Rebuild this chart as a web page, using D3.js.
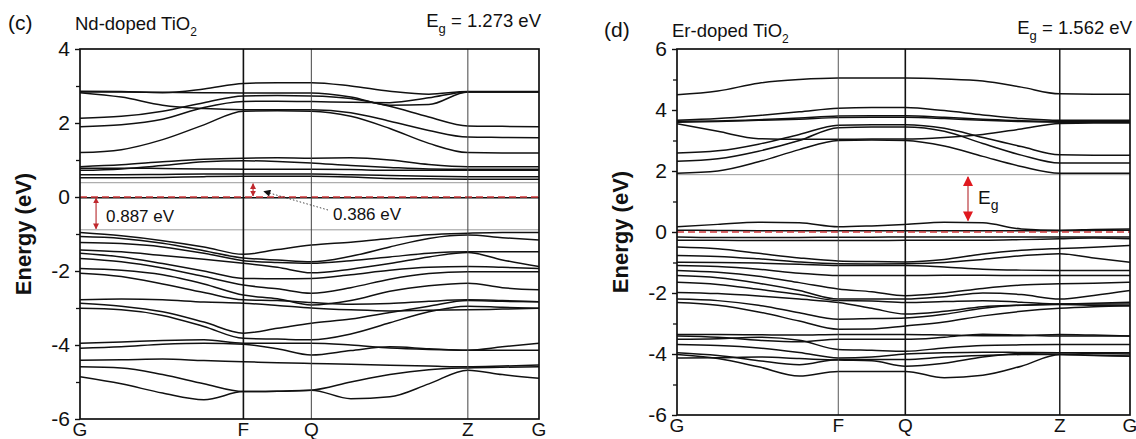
<!DOCTYPE html>
<html>
<head>
<meta charset="utf-8">
<title>band structures</title>
<style>
    body { margin: 0; background: #fff; }
    text { font-family: Arial, "Liberation Sans", sans-serif; fill: #111; }
</style>
</head>
<body>
<script src="https://d3js.org/d3.v7.min.js"></script>
<script>
    var width = 1136,
        height = 439;

    // k-path: high symmetry labels and their fractional positions along the path
    var kLabels = ["G", "F", "Q", "Z", "G"];
    var kPos = [0, 0.356, 0.504, 0.845, 1];
    var kSamples = [0, 0.09, 0.18, 0.27, 0.356, 0.43, 0.504, 0.59, 0.675, 0.76, 0.845, 0.92, 1];

    // (c) Nd-doped TiO2, energies in eV at kSamples
    var ndBands = [
        [2.86, 2.85, 2.82, 2.92, 3.07, 3.09, 3.09, 3.00, 2.86, 2.78, 2.85, 2.85, 2.85],
        [2.82, 2.70, 2.48, 2.39, 2.36, 2.36, 2.36, 2.28, 2.05, 1.80, 1.62, 1.61, 1.60],
        [2.13, 2.18, 2.32, 2.55, 2.73, 2.74, 2.73, 2.66, 2.45, 2.16, 1.92, 1.91, 1.90],
        [1.90, 1.95, 2.10, 2.42, 2.58, 2.59, 2.58, 2.56, 2.55, 2.68, 2.84, 2.84, 2.84],
        [1.20, 1.28, 1.55, 1.95, 2.32, 2.33, 2.32, 2.18, 1.85, 1.45, 1.20, 1.19, 1.19],
        [2.84, 2.84, 2.83, 2.82, 2.81, 2.81, 2.81, 2.70, 2.48, 2.50, 2.84, 2.84, 2.84],
        [0.82, 0.87, 0.95, 1.02, 1.05, 1.06, 1.05, 1.06, 1.00, 0.88, 0.82, 0.82, 0.82],
        [0.72, 0.76, 0.85, 0.95, 0.98, 0.96, 0.92, 0.85, 0.80, 0.76, 0.75, 0.75, 0.75],
        [0.78, 0.78, 0.77, 0.76, 0.75, 0.75, 0.75, 0.74, 0.72, 0.72, 0.72, 0.72, 0.72],
        [0.60, 0.60, 0.61, 0.62, 0.62, 0.62, 0.62, 0.60, 0.58, 0.56, 0.55, 0.55, 0.55],
        [0.52, 0.52, 0.53, 0.55, 0.56, 0.56, 0.56, 0.54, 0.50, 0.49, 0.48, 0.48, 0.48],
        [-0.02, -0.02, -0.02, -0.02, -0.02, -0.02, -0.02, -0.02, -0.02, -0.02, -0.02, -0.02, -0.02],
        [-0.96, -1.05, -1.18, -1.35, -1.55, -1.42, -1.30, -1.22, -1.12, -1.02, -0.98, -0.96, -0.96],
        [-1.07, -1.12, -1.25, -1.45, -1.65, -1.70, -1.75, -1.60, -1.35, -1.12, -1.03, -1.10, -1.16],
        [-1.23, -1.26, -1.35, -1.52, -1.72, -1.77, -1.79, -1.72, -1.62, -1.52, -1.48, -1.48, -1.48],
        [-1.43, -1.48, -1.58, -1.68, -1.79, -1.90, -2.05, -1.95, -1.80, -1.62, -1.50, -1.70, -1.88],
        [-1.52, -1.62, -1.80, -2.00, -2.20, -2.21, -2.20, -2.10, -1.98, -1.90, -1.88, -1.90, -1.93],
        [-1.66, -1.75, -1.92, -2.15, -2.38, -2.48, -2.60, -2.45, -2.22, -2.07, -2.02, -2.02, -2.02],
        [-1.93, -1.98, -2.10, -2.35, -2.65, -2.75, -2.92, -2.80, -2.55, -2.40, -2.33, -2.45, -2.51],
        [-2.06, -2.15, -2.35, -2.58, -2.78, -2.80, -2.85, -2.90, -2.88, -2.82, -2.78, -2.80, -2.83],
        [-2.78, -2.76, -2.78, -2.84, -2.87, -2.93, -3.00, -3.05, -3.08, -3.06, -3.05, -3.03, -3.01],
        [-2.87, -2.95, -3.10, -3.38, -3.68, -3.55, -3.41, -3.30, -3.12, -2.95, -2.80, -2.82, -2.83],
        [-3.01, -3.05, -3.20, -3.50, -3.82, -3.84, -3.86, -3.70, -3.40, -3.10, -2.95, -2.98, -3.01],
        [-3.95, -3.92, -3.88, -3.86, -3.95, -3.95, -3.95, -4.00, -4.08, -4.12, -4.14, -4.05, -3.95],
        [-4.09, -4.05, -3.98, -3.95, -3.98, -4.10, -4.27, -4.15, -4.05, -4.10, -4.14, -4.14, -4.14],
        [-4.41, -4.40, -4.38, -4.42, -4.45, -4.48, -4.50, -4.52, -4.55, -4.57, -4.59, -4.57, -4.54],
        [-4.59, -4.62, -4.80, -5.05, -5.26, -5.25, -5.22, -5.00, -4.80, -4.67, -4.62, -4.60, -4.59],
        [-4.86, -5.05, -5.30, -5.48, -5.26, -5.25, -5.22, -5.45, -5.40, -5.05, -4.68, -4.80, -4.90]
    ];

    // (d) Er-doped TiO2, energies in eV at kSamples
    var erBands = [
        [4.50, 4.62, 4.88, 5.00, 5.05, 5.05, 5.05, 5.02, 4.95, 4.75, 4.53, 4.52, 4.52],
        [3.66, 3.72, 3.82, 3.94, 4.06, 4.08, 4.08, 3.98, 3.84, 3.72, 3.66, 3.66, 3.66],
        [3.63, 3.64, 3.68, 3.74, 3.80, 3.81, 3.81, 3.76, 3.70, 3.65, 3.63, 3.63, 3.63],
        [3.60, 3.62, 3.66, 3.70, 3.75, 3.76, 3.76, 3.72, 3.66, 3.62, 3.60, 3.60, 3.60],
        [3.55, 3.30, 3.06, 3.04, 3.04, 3.05, 3.05, 3.10, 3.20, 3.38, 3.56, 3.57, 3.57],
        [2.59, 2.66, 2.88, 3.20, 3.50, 3.52, 3.52, 3.40, 3.10, 2.80, 2.53, 2.52, 2.52],
        [2.32, 2.40, 2.65, 3.00, 3.42, 3.44, 3.44, 3.30, 2.90, 2.52, 2.26, 2.26, 2.26],
        [1.93, 2.00, 2.30, 2.70, 3.00, 3.02, 3.00, 2.82, 2.48, 2.15, 1.93, 1.93, 1.93],
        [0.17, 0.25, 0.32, 0.30, 0.17, 0.20, 0.25, 0.32, 0.30, 0.10, 0.06, 0.08, 0.10],
        [0.06, 0.05, 0.04, 0.04, 0.04, 0.04, 0.04, 0.04, 0.04, 0.04, 0.04, 0.05, 0.06],
        [-0.16, -0.18, -0.18, -0.18, -0.17, -0.17, -0.16, -0.16, -0.16, -0.16, -0.16, -0.16, -0.16],
        [-0.27, -0.27, -0.28, -0.28, -0.28, -0.28, -0.27, -0.27, -0.27, -0.25, -0.22, -0.20, -0.22],
        [-0.49, -0.55, -0.70, -0.85, -0.95, -0.97, -0.98, -0.90, -0.72, -0.60, -0.54, -0.50, -0.44],
        [-0.77, -0.80, -0.88, -0.98, -1.04, -1.05, -1.04, -1.00, -0.90, -0.78, -0.71, -0.85, -0.99],
        [-0.99, -1.00, -1.02, -1.06, -1.10, -1.10, -1.10, -1.15, -1.22, -1.25, -1.26, -1.26, -1.26],
        [-1.10, -1.13, -1.22, -1.35, -1.43, -1.43, -1.43, -1.42, -1.42, -1.43, -1.43, -1.43, -1.43],
        [-1.26, -1.32, -1.45, -1.66, -1.87, -1.96, -2.09, -2.00, -1.85, -1.74, -1.70, -1.68, -1.65],
        [-1.43, -1.50, -1.68, -1.92, -2.20, -2.20, -2.20, -2.12, -2.00, -2.05, -2.20, -2.08, -1.92],
        [-1.65, -1.72, -1.88, -2.05, -2.25, -2.26, -2.31, -2.28, -2.25, -2.30, -2.36, -2.36, -2.36],
        [-1.98, -2.02, -2.10, -2.20, -2.31, -2.50, -2.69, -2.60, -2.45, -2.40, -2.36, -2.34, -2.30],
        [-2.20, -2.25, -2.40, -2.65, -2.86, -2.84, -2.82, -2.70, -2.50, -2.40, -2.38, -2.40, -2.42],
        [-2.31, -2.40, -2.62, -2.92, -3.19, -3.18, -3.08, -2.95, -2.75, -2.60, -2.50, -2.45, -2.42],
        [-3.36, -3.36, -3.37, -3.38, -3.36, -3.36, -3.36, -3.38, -3.40, -3.40, -3.36, -3.38, -3.41],
        [-3.41, -3.45, -3.55, -3.60, -3.52, -3.52, -3.52, -3.45, -3.35, -3.38, -3.41, -3.41, -3.41],
        [-3.52, -3.50, -3.45, -3.55, -3.85, -3.88, -3.91, -3.80, -3.72, -3.70, -3.69, -3.69, -3.69],
        [-3.69, -3.72, -3.80, -3.95, -4.13, -4.10, -4.00, -3.96, -3.94, -3.95, -3.96, -3.96, -3.96],
        [-3.96, -4.05, -4.22, -4.35, -4.18, -4.18, -4.18, -4.10, -4.05, -4.02, -4.02, -4.04, -4.07],
        [-4.02, -4.15, -4.42, -4.72, -4.57, -4.57, -4.57, -4.78, -4.70, -4.40, -4.02, -4.05, -4.07],
        [-4.13, -4.12, -4.10, -4.15, -4.20, -4.22, -4.40, -4.30, -4.10, -3.98, -3.96, -3.98, -4.00]
    ];

    var svg = d3.select('body').append('svg')
            .attr('width', width)
            .attr('height', height);

    var defs = svg.append('defs');
    function arrowMarker(id, color, w, h) {
        defs.append('marker')
            .attr('id', id)
            .attr('viewBox', '0 0 10 10')
            .attr('refX', 9).attr('refY', 5)
            .attr('markerUnits', 'userSpaceOnUse')
            .attr('markerWidth', w).attr('markerHeight', h)
            .attr('orient', 'auto-start-reverse')
            .append('path')
            .attr('d', 'M0,0 L10,5 L0,10 Z')
            .attr('fill', color);
    }
    arrowMarker('headSmall', '#c0282d', 6, 6);
    arrowMarker('headBig', '#e0191f', 11, 10);
    arrowMarker('headBlack', '#111', 8, 7);

    function drawPanel(p) {
        var x = d3.scaleLinear().domain([0, 1]).range([p.left, p.right]);
        var y = d3.scaleLinear().domain(p.yDomain).range([p.bottom, p.top]);
        var g = svg.append('g');

        defs.append('clipPath').attr('id', 'clip' + p.id)
            .append('rect')
            .attr('x', p.left).attr('y', p.top)
            .attr('width', p.right - p.left).attr('height', p.bottom - p.top);

        var plot = g.append('g').attr('clip-path', 'url(#clip' + p.id + ')');

        // gray reference lines (band edges)
        plot.selectAll('line.ref')
            .data(p.refLines)
            .enter().append('line')
            .attr('x1', p.left).attr('x2', p.right)
            .attr('y1', function (d) { return y(d); })
            .attr('y2', function (d) { return y(d); })
            .attr('stroke', '#9a9a9a')
            .attr('stroke-width', 1);

        var line = d3.line()
                .x(function (d, i) { return x(kSamples[i]); })
                .y(function (d) { return y(d); })
                .curve(d3.curveMonotoneX);

        plot.selectAll('path.band')
            .data(p.bands)
            .enter().append('path')
            .attr('class', 'band')
            .attr('d', line)
            .attr('fill', 'none')
            .attr('stroke', '#111')
            .attr('stroke-width', 1.5);

        // fermi level
        plot.append('line')
            .attr('x1', p.left).attr('x2', p.right)
            .attr('y1', y(0)).attr('y2', y(0))
            .attr('stroke', '#d0393b')
            .attr('stroke-width', 1.3)
            .attr('stroke-dasharray', '7,4');

        // high symmetry verticals
        g.selectAll('line.kline')
            .data(kPos.slice(1, -1))
            .enter().append('line')
            .attr('x1', function (d) { return x(d); })
            .attr('x2', function (d) { return x(d); })
            .attr('y1', p.top).attr('y2', p.bottom)
            .attr('stroke', function (d, i) { return p.kWidths[i] > 1.2 ? '#111' : '#444'; })
            .attr('stroke-width', function (d, i) { return p.kWidths[i]; });

        g.append('rect')
            .attr('x', p.left).attr('y', p.top)
            .attr('width', p.right - p.left).attr('height', p.bottom - p.top)
            .attr('fill', 'none')
            .attr('stroke', '#111')
            .attr('stroke-width', 1.7);

        // y axis, majors and minors
        var yAxis = d3.axisLeft(y)
                .tickValues(p.majors)
                .tickSize(5)
                .tickPadding(5)
                .tickFormat(function (d) { return String(d); });
        var ax = g.append('g').attr('transform', 'translate(' + p.left + ',0)').call(yAxis);
        ax.select('.domain').remove();
        ax.selectAll('.tick line').attr('stroke', '#111').attr('stroke-width', 1.4);
        ax.selectAll('.tick text')
            .attr('font-size', 21)
            .attr('font-family', 'Arial, "Liberation Sans", sans-serif')
            .attr('fill', '#111');

        var yMinor = d3.axisLeft(y).tickValues(p.minors).tickSize(4).tickFormat('');
        var axm = g.append('g').attr('transform', 'translate(' + p.left + ',0)').call(yMinor);
        axm.select('.domain').remove();
        axm.selectAll('.tick line').attr('stroke', '#111').attr('stroke-width', 1.3);

        // axis title
        g.append('text')
            .attr('transform', 'translate(' + p.titleX + ',' + ((p.top + p.bottom) / 2) + ') rotate(-90)')
            .attr('text-anchor', 'middle')
            .attr('font-size', 22)
            .attr('font-weight', 'bold')
            .text('Energy (eV)');

        // k labels
        g.selectAll('text.klab')
            .data(kLabels)
            .enter().append('text')
            .attr('x', function (d, i) { return x(kPos[i]); })
            .attr('y', p.bottom + 17)
            .attr('text-anchor', 'middle')
            .attr('font-size', 19)
            .text(function (d) { return d; });

        // header
        g.append('text').attr('x', p.tagX).attr('y', p.headY).attr('font-size', 21).text(p.tag);
        var name = g.append('text').attr('x', p.left - 5).attr('y', p.headY).attr('font-size', 18.5);
        name.append('tspan').text(p.name);
        name.append('tspan').attr('font-size', 12).attr('dy', 6).text('2');
        var eg = g.append('text').attr('x', p.right + 2).attr('y', p.headY - 3)
                .attr('text-anchor', 'end').attr('font-size', 18.5);
        eg.append('tspan').text('E');
        eg.append('tspan').attr('font-size', 13).attr('dy', 6).text('g');
        eg.append('tspan').attr('dy', -6).text(' = ' + p.gap + ' eV');

        return {x: x, y: y, g: g};
    }

    var c = drawPanel({
        id: 'c', tag: '(c)', tagX: 8, name: 'Nd-doped TiO', gap: '1.273', headY: 30,
        left: 80, right: 539, top: 49, bottom: 419, titleX: 31,
        yDomain: [-6, 4], majors: [-6, -4, -2, 0, 2, 4], minors: [-5, -3, -1, 1, 3],
        kWidths: [1.6, 1, 1],
        refLines: [0.386, -0.887], bands: ndBands
    });

    var d = drawPanel({
        id: 'd', tag: '(d)', tagX: 604, name: 'Er-doped TiO', gap: '1.562', headY: 37,
        left: 677, right: 1130, top: 49, bottom: 415, titleX: 628,
        yDomain: [-6, 6], majors: [-6, -4, -2, 0, 2, 4, 6], minors: [-5, -3, -1, 1, 3, 5],
        kWidths: [0.9, 1.6, 1.4],
        refLines: [1.88], bands: erBands
    });

    // (c) annotations
    c.g.append('line')
        .attr('x1', c.x(0.035)).attr('x2', c.x(0.035))
        .attr('y1', c.y(0) + 1).attr('y2', c.y(-0.887) - 1)
        .attr('stroke', '#b5282c').attr('stroke-width', 1.1)
        .attr('marker-start', 'url(#headSmall)')
        .attr('marker-end', 'url(#headSmall)');
    c.g.append('text').attr('x', 106).attr('y', c.y(-0.5) + 6)
        .attr('font-size', 17).text('0.887 eV');

    c.g.append('line')
        .attr('x1', c.x(0.377)).attr('x2', c.x(0.377))
        .attr('y1', c.y(0.386) + 1).attr('y2', c.y(0) - 1)
        .attr('stroke', '#b5282c').attr('stroke-width', 1.1)
        .attr('marker-start', 'url(#headSmall)')
        .attr('marker-end', 'url(#headSmall)');
    c.g.append('line')
        .attr('x1', 328).attr('y1', 210)
        .attr('x2', 264).attr('y2', c.y(0.15))
        .attr('stroke', '#333').attr('stroke-width', 0.9)
        .attr('stroke-dasharray', '1.5,2')
        .attr('marker-end', 'url(#headBlack)');
    c.g.append('text').attr('x', 333).attr('y', 220)
        .attr('font-size', 17).text('0.386 eV');

    // (d) gap arrow
    d.g.append('line')
        .attr('x1', 968).attr('x2', 968)
        .attr('y1', d.y(1.80)).attr('y2', d.y(0.38))
        .attr('stroke', '#b5282c').attr('stroke-width', 1.1)
        .attr('marker-start', 'url(#headBig)')
        .attr('marker-end', 'url(#headBig)');
    var egd = d.g.append('text').attr('x', 978).attr('y', d.y(1.0) + 2).attr('font-size', 19);
    egd.append('tspan').text('E');
    egd.append('tspan').attr('font-size', 14).attr('dy', 6).text('g');
</script>
</body>
</html>
